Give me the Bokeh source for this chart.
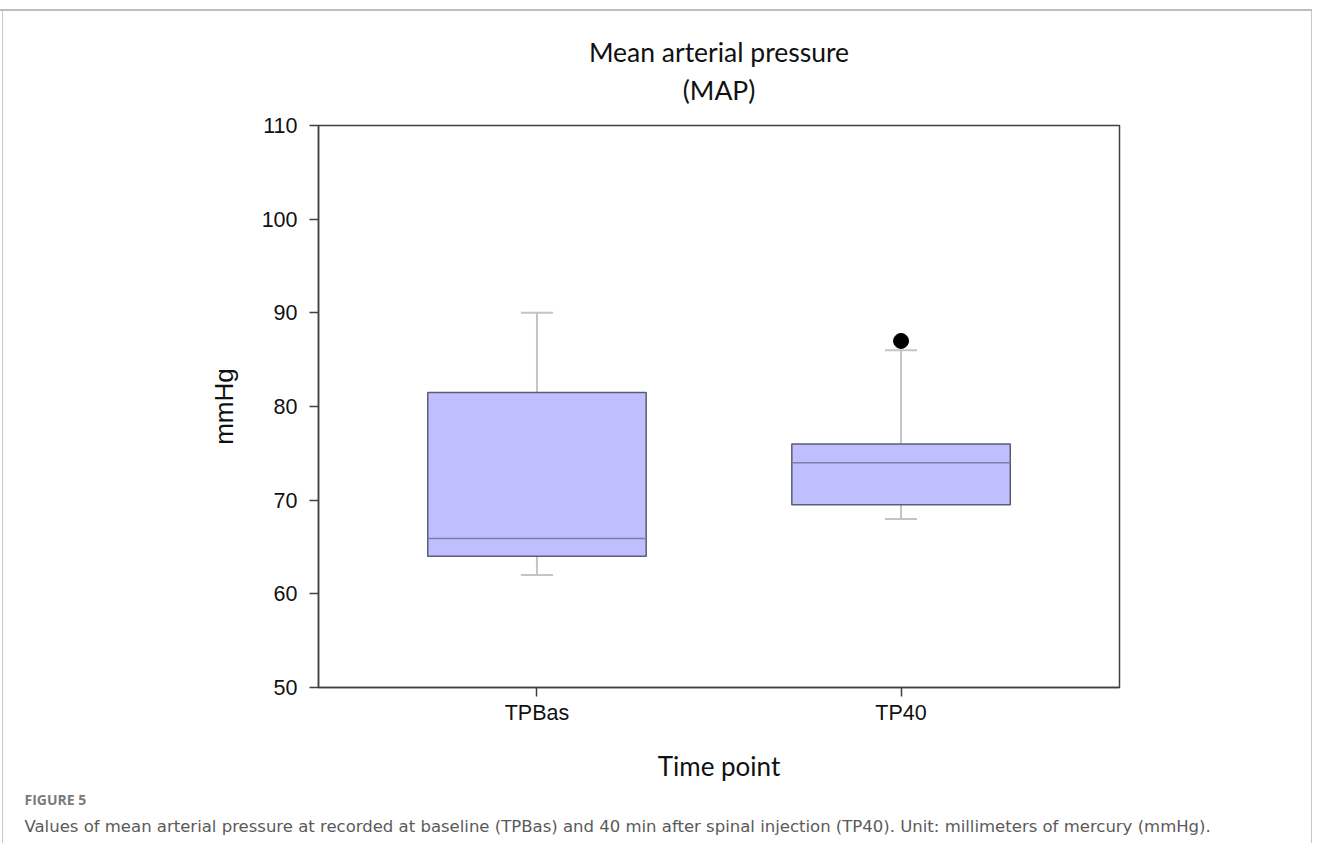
from bokeh.plotting import figure
from bokeh.models import Title, FixedTicker, Range1d
from bokeh.embed import file_html
from bokeh.resources import INLINE

# ---- data ----
categories = ["TPBas", "TP40"]
positions = [1, 2]
q1 = [64.0, 69.5]
median = [65.9, 74.0]
q3 = [81.5, 76.0]
whisker_low = [62.0, 68.0]
whisker_high = [90.0, 86.0]
outlier_x = [2]
outlier_y = [87.0]
y_ticks = [50, 60, 70, 80, 90, 100, 110]

W, H = 1312, 843
p = figure(width=W, height=H, output_backend="svg", toolbar_location=None,
           x_range=Range1d(0.4, 2.6), y_range=Range1d(50, 110),
           min_border_left=318, min_border_right=193, min_border_top=125,
           min_border_bottom=156)
# thin grey page frame (top, left, right) drawn behind a transparent canvas border
p.styles = {"background": (
    "linear-gradient(#bdbdbd,#bdbdbd) 0px 9px / 100% 2px no-repeat, "
    "linear-gradient(#c8c8c8,#c8c8c8) 2px 9px / 1px 100% no-repeat, "
    "linear-gradient(#c8c8c8,#c8c8c8) right 0px top 9px / 1px 100% no-repeat, white")}
p.grid.visible = False
p.background_fill_color = "white"
p.border_fill_color = None
p.outline_line_color = "#404040"
p.outline_line_width = 1.5
p.outline_line_alpha = 1.0

# chart title (two centred lines; the one added first sits closest to the frame)
p.add_layout(Title(text="(MAP)", align="center", text_font="Lato", text_font_size="26.5px",
                   text_font_style="normal", text_color="#111111", standoff=40), "above")
p.add_layout(Title(text="Mean arterial pressure", align="center", text_font="Lato",
                   text_font_size="26.5px", text_font_style="normal", text_color="#111111",
                   standoff=-32), "above")

# axes
for ax in (p.xaxis[0], p.yaxis[0]):
    ax.axis_line_color = "#404040"
    ax.axis_line_width = 1.5
    ax.major_tick_line_color = "#404040"
    ax.major_tick_line_width = 1.5
    ax.major_tick_out = 9
    ax.major_tick_in = 0
    ax.minor_tick_line_color = None
    ax.major_label_text_font = "Liberation Sans"
    ax.major_label_text_font_size = "21.5px"
    ax.major_label_text_color = "#111111"
    ax.axis_label_text_font_style = "normal"
    ax.axis_label_text_color = "#111111"

p.yaxis.ticker = FixedTicker(ticks=y_ticks)
p.yaxis.major_label_standoff = 12
p.yaxis.axis_label = "mmHg"
p.yaxis.axis_label_text_font = "Liberation Sans"
p.yaxis.axis_label_text_font_size = "26px"
p.yaxis.axis_label_standoff = 20

p.xaxis.ticker = FixedTicker(ticks=positions)
p.xaxis.major_label_overrides = {pos: c for pos, c in zip(positions, categories)}
p.xaxis.major_label_standoff = 4
p.xaxis.axis_label = "Time point"
p.xaxis.axis_label_text_font = "Lato"
p.xaxis.axis_label_text_font_size = "26px"
p.xaxis.axis_label_standoff = 22

# whiskers
p.segment(x0=positions, y0=q3, x1=positions, y1=whisker_high, line_color="#c4c4c4", line_width=2)
p.segment(x0=positions, y0=whisker_low, x1=positions, y1=q1, line_color="#c4c4c4", line_width=2)
cap = 0.044
p.segment(x0=[x - cap for x in positions], y0=whisker_high,
          x1=[x + cap for x in positions], y1=whisker_high, line_color="#c4c4c4", line_width=2)
p.segment(x0=[x - cap for x in positions], y0=whisker_low,
          x1=[x + cap for x in positions], y1=whisker_low, line_color="#c4c4c4", line_width=2)

# boxes
p.vbar(x=positions, width=0.6, top=q3, bottom=q1, fill_color="#bfbfff",
       line_color="#5c5c72", line_width=1.5)
p.segment(x0=[x - 0.3 for x in positions], y0=median, x1=[x + 0.3 for x in positions],
          y1=median, line_color="#7f7fa0", line_width=1.5)

# outlier
p.scatter(x=outlier_x, y=outlier_y, size=15, fill_color="black", line_color="black")

# figure caption (below the x axis, shifted left to the page edge)
p.add_layout(Title(text="FIGURE 5", align="left", offset=-294, text_font="Open Sans",
                   text_font_size="14px", text_font_style="bold", text_color="#7a7a7a",
                   standoff=6), "below")
p.add_layout(Title(text="Values of mean arterial pressure at recorded at baseline (TPBas) and 40 min after spinal injection (TP40). Unit: millimeters of mercury (mmHg).",
                   align="left", offset=-294, text_font="DejaVu Sans", text_font_size="16.5px",
                   text_font_style="normal", text_color="#5a5a5a", standoff=6), "below")

open("out.html", "w").write(file_html(p, INLINE))
